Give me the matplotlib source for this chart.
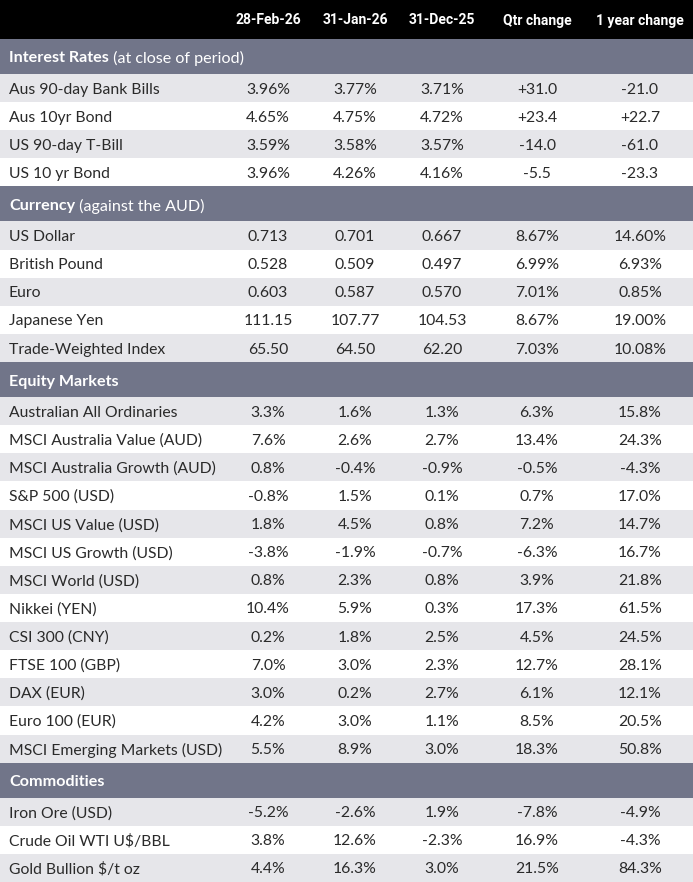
import matplotlib
matplotlib.use("Agg")
import matplotlib.pyplot as plt
from matplotlib import font_manager
from matplotlib.patches import Rectangle

# ---- data ----
columns = ["28-Feb-26", "31-Jan-26", "31-Dec-25", "Qtr change", "1 year change"]

sections = [
    ("Interest Rates", " (at close of period)"),
    ("Currency", " (against the AUD)"),
    ("Equity Markets", ""),
    ("Commodities", ""),
]

rates_names = ["Aus 90-day Bank Bills", "Aus 10yr Bond", "US 90-day T-Bill", "US 10 yr Bond"]
rates_vals = [
    ["3.96%", "3.77%", "3.71%", "+31.0", "-21.0"],
    ["4.65%", "4.75%", "4.72%", "+23.4", "+22.7"],
    ["3.59%", "3.58%", "3.57%", "-14.0", "-61.0"],
    ["3.96%", "4.26%", "4.16%", "-5.5", "-23.3"],
]

fx_names = ["US Dollar", "British Pound", "Euro", "Japanese Yen", "Trade-Weighted Index"]
fx_vals = [
    ["0.713", "0.701", "0.667", "8.67%", "14.60%"],
    ["0.528", "0.509", "0.497", "6.99%", "6.93%"],
    ["0.603", "0.587", "0.570", "7.01%", "0.85%"],
    ["111.15", "107.77", "104.53", "8.67%", "19.00%"],
    ["65.50", "64.50", "62.20", "7.03%", "10.08%"],
]

eq_names = ["Australian All Ordinaries", "MSCI Australia Value (AUD)", "MSCI Australia Growth (AUD)",
            "S&P 500 (USD)", "MSCI US Value (USD)", "MSCI US Growth (USD)", "MSCI World (USD)",
            "Nikkei (YEN)", "CSI 300 (CNY)", "FTSE 100 (GBP)", "DAX (EUR)", "Euro 100 (EUR)",
            "MSCI Emerging Markets (USD)"]
eq_vals = [
    ["3.3%", "1.6%", "1.3%", "6.3%", "15.8%"],
    ["7.6%", "2.6%", "2.7%", "13.4%", "24.3%"],
    ["0.8%", "-0.4%", "-0.9%", "-0.5%", "-4.3%"],
    ["-0.8%", "1.5%", "0.1%", "0.7%", "17.0%"],
    ["1.8%", "4.5%", "0.8%", "7.2%", "14.7%"],
    ["-3.8%", "-1.9%", "-0.7%", "-6.3%", "16.7%"],
    ["0.8%", "2.3%", "0.8%", "3.9%", "21.8%"],
    ["10.4%", "5.9%", "0.3%", "17.3%", "61.5%"],
    ["0.2%", "1.8%", "2.5%", "4.5%", "24.5%"],
    ["7.0%", "3.0%", "2.3%", "12.7%", "28.1%"],
    ["3.0%", "0.2%", "2.7%", "6.1%", "12.1%"],
    ["4.2%", "3.0%", "1.1%", "8.5%", "20.5%"],
    ["5.5%", "8.9%", "3.0%", "18.3%", "50.8%"],
]

com_names = ["Iron Ore (USD)", "Crude Oil WTI U$/BBL", "Gold Bullion $/t oz"]
com_vals = [
    ["-5.2%", "-2.6%", "1.9%", "-7.8%", "-4.9%"],
    ["3.8%", "12.6%", "-2.3%", "16.9%", "-4.3%"],
    ["4.4%", "16.3%", "3.0%", "21.5%", "84.3%"],
]

blocks = [(rates_names, rates_vals), (fx_names, fx_vals), (eq_names, eq_vals), (com_names, com_vals)]

# ---- layout (pixels) ----
W, H = 693, 882
head_h = 39
sec_h = 35
n_rows = sum(len(n) for n, _ in blocks)
row_h = (H - head_h - sec_h * len(blocks)) / n_rows
col_x = [268, 355, 442, 537, 640]

BODY = ["Lato", "DejaVu Sans"]
TXT = "#2a2a2a"
SEC_BG = "#717589"
ROW_BG = "#e6e6ea"

# narrow font for the header if there is one
installed = {f.name for f in font_manager.fontManager.ttflist}
if "Liberation Sans Narrow" in installed:
    HEAD, head_fs = ["Liberation Sans Narrow"], 11.5
else:
    HEAD, head_fs = ["Roboto", "DejaVu Sans"], 10

fig = plt.figure(figsize=(W / 100, H / 100), dpi=100)
ax = fig.add_axes([0, 0, 1, 1])
ax.set_xlim(0, W)
ax.set_ylim(H, 0)
ax.axis("off")

# header
ax.add_patch(Rectangle((0, 0), W, head_h, color="black", lw=0))
for x, c in zip(col_x, columns):
    ax.text(x, head_h / 2 + 1, c, ha="center", va="center", color="white",
            fontsize=head_fs, fontweight="bold", family=HEAD)

fig.canvas.draw()
renderer = fig.canvas.get_renderer()

y = head_h
for (bold, rest), (names, vals) in zip(sections, blocks):
    ax.add_patch(Rectangle((0, y), W, sec_h, color=SEC_BG, lw=0))
    t = ax.text(9, y + sec_h / 2 + 2, bold, ha="left", va="center", color="white",
                fontsize=11.6, fontweight="bold", family=BODY)
    if rest:
        bb = t.get_window_extent(renderer)
        ax.text(bb.x1, y + sec_h / 2 + 2, rest, ha="left", va="center", color="white",
                fontsize=11.6, family=BODY)
    y += sec_h
    for i, (name, row) in enumerate(zip(names, vals)):
        if i % 2 == 0:
            ax.add_patch(Rectangle((0, y), W, row_h, color=ROW_BG, lw=0))
        cy = y + row_h / 2 + 1.5
        ax.text(9, cy, name, ha="left", va="center", color=TXT, fontsize=11.3, family=BODY)
        for x, v in zip(col_x, row):
            ax.text(x, cy, v, ha="center", va="center", color=TXT, fontsize=11.3, family=BODY)
        y += row_h

fig.savefig("out.png", dpi=100)
